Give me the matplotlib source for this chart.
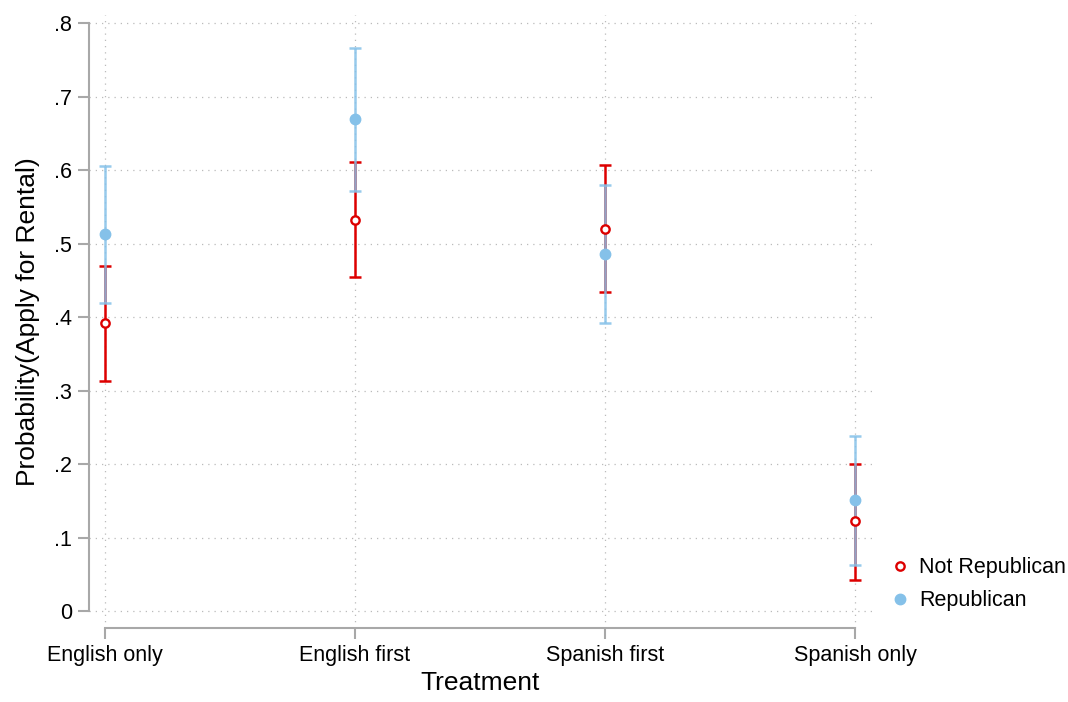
import matplotlib.pyplot as plt

plt.rcParams['font.family'] = ['Liberation Sans', 'DejaVu Sans']

treatments = ['English only', 'English first', 'Spanish first', 'Spanish only']

notrep_est = [0.392, 0.532, 0.520, 0.122]
notrep_lo = [0.313, 0.454, 0.434, 0.042]
notrep_hi = [0.469, 0.611, 0.607, 0.200]

rep_est = [0.513, 0.669, 0.486, 0.151]
rep_lo = [0.419, 0.571, 0.392, 0.063]
rep_hi = [0.605, 0.766, 0.580, 0.238]

y_ticks = [0, 0.1, 0.2, 0.3, 0.4, 0.5, 0.6, 0.7, 0.8]
y_tick_labels = ['0', '.1', '.2', '.3', '.4', '.5', '.6', '.7', '.8']

red = '#dd0000'
blue = '#85c1e9'


def main():
    fig = plt.figure(figsize=(10.68, 7.02), dpi=100)
    ax = fig.add_axes([89 / 1068, 74 / 702, 783 / 1068, 613 / 702])
    x = list(range(len(treatments)))

    ax.errorbar(x, notrep_est,
                yerr=[[e - l for e, l in zip(notrep_est, notrep_lo)],
                      [h - e for e, h in zip(notrep_est, notrep_hi)]],
                fmt='none', ecolor=red, elinewidth=1.8, capsize=4.5,
                capthick=1.8, zorder=3)
    ax.errorbar(x, rep_est,
                yerr=[[e - l for e, l in zip(rep_est, rep_lo)],
                      [h - e for e, h in zip(rep_est, rep_hi)]],
                fmt='none', ecolor=blue, elinewidth=1.8, capsize=4.5,
                capthick=1.8, alpha=0.85, zorder=4)
    ax.plot(x, notrep_est, 'o', ms=6, mfc='white', mec=red, mew=1.7,
            ls='none', zorder=5, label='Not Republican')
    ax.plot(x, rep_est, 'o', ms=7.5, color=blue, ls='none', zorder=6,
            label='Republican')

    ax.set_xlim(-0.064, 3.068)
    ax.set_ylim(-0.0231, 0.8109)
    ax.set_xticks(x)
    ax.set_xticklabels(treatments, fontsize=15.5)
    ax.set_yticks(y_ticks)
    ax.set_yticklabels(y_tick_labels, fontsize=15.5)
    ax.set_xlabel('Treatment', fontsize=19, labelpad=4)
    ax.set_ylabel('Probability(Apply for Rental)', fontsize=19, labelpad=10)

    for s in ['top', 'right']:
        ax.spines[s].set_visible(False)
    ax.spines['left'].set_bounds(0, 0.8)
    ax.spines['bottom'].set_bounds(0, 3)
    for s in ['left', 'bottom']:
        ax.spines[s].set_color('#a8a8a8')
        ax.spines[s].set_linewidth(1.5)
    ax.tick_params(axis='both', direction='out', length=8, width=1.5,
                   color='#a8a8a8', pad=4)

    ax.grid(True, color='#bbbbbb', linestyle=(0, (1, 4)), linewidth=0.9)
    ax.set_axisbelow(True)

    ax.legend(loc='lower left', bbox_to_anchor=(1.0, 0.003), frameon=False,
              fontsize=15.5, handletextpad=0.3, borderaxespad=0.3,
              handlelength=1.2, labelspacing=0.55)

    fig.savefig('out.png', dpi=100)


if __name__ == "__main__":
    main()
